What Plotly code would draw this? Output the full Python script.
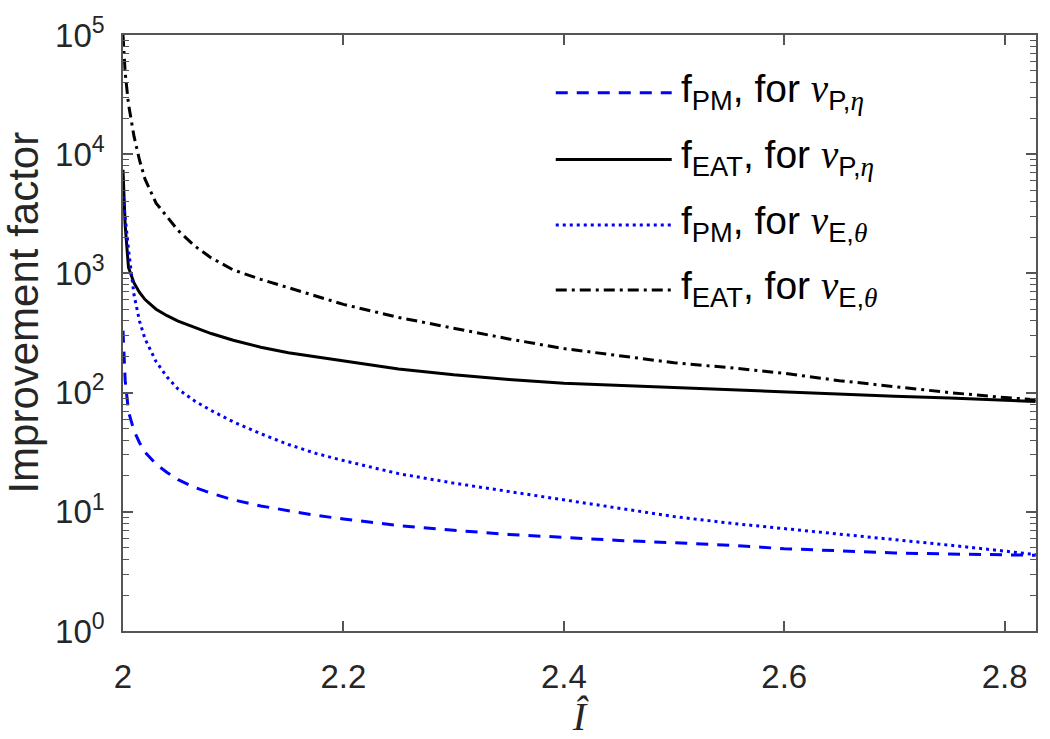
import plotly.graph_objects as go

# Data (x = I-hat, y = improvement factor)
i_hat = [2.0, 2.002, 2.005, 2.01, 2.015, 2.02, 2.03, 2.04, 2.05, 2.065, 2.08, 2.1,
         2.125, 2.15, 2.175, 2.2, 2.25, 2.3, 2.35, 2.4, 2.45, 2.5, 2.55, 2.6,
         2.65, 2.7, 2.75, 2.8, 2.828]

f_pm_p_eta = [331, 126, 69.2, 47.9, 38.0, 31.6, 25.1, 21.4, 18.6, 16.0, 14.3, 12.6,
              11.2, 10.2, 9.33, 8.71, 7.67, 7.0, 6.46, 6.10, 5.75, 5.50, 5.25, 4.90,
              4.68, 4.52, 4.42, 4.37, 4.32]

f_eat_p_eta = [7400, 2510, 1120, 832, 692, 603, 501, 442, 398, 351, 313, 275,
               240, 216, 200, 184, 158, 141, 129, 120, 115, 111, 106, 101,
               96.6, 93.3, 90.2, 86.1, 84.1]

f_pm_e_theta = [4470, 2820, 1580, 661, 398, 282, 182, 135, 107, 85.1, 70.8, 56.9,
                45.2, 36.7, 30.9, 26.9, 20.9, 17.4, 14.8, 12.6, 10.7, 9.12, 8.04, 7.24,
                6.53, 5.89, 5.25, 4.68, 4.37]

f_eat_e_theta = [100000, 47900, 26300, 14100, 8900, 6170, 3890, 2950, 2290, 1700, 1350, 1070,
                 891, 759, 646, 550, 427, 347, 282, 234, 204, 178, 162, 145,
                 126, 112, 100, 91, 87]

x_ticks = [2, 2.2, 2.4, 2.6, 2.8]
y_ticks = [1, 10, 100, 1000, 10000, 100000]
y_tick_text = ['10<sup>%d</sup>' % i for i in range(6)]
y_minor = [m * 10 ** e for e in range(5) for m in range(2, 10)]

serif = "<span style=\"font-family:'Liberation Serif'\"><i>%s</i></span>"
nu, eta, theta = serif % 'ν', serif % 'η', serif % 'θ'
labels = [
    'f<sub>PM</sub>, for ' + nu + '<sub>P,' + eta + '</sub>',
    'f<sub>EAT</sub>, for ' + nu + '<sub>P,' + eta + '</sub>',
    'f<sub>PM</sub>, for ' + nu + '<sub>E,' + theta + '</sub>',
    'f<sub>EAT</sub>, for ' + nu + '<sub>E,' + theta + '</sub>',
]
series = [f_pm_p_eta, f_eat_p_eta, f_pm_e_theta, f_eat_e_theta]
colors = ['#0000ff', '#000000', '#0000ff', '#000000']
dashes = ['12px,9px', 'solid', '3px,4px', '11px,5px,3px,5px']

fig = go.Figure()
for y, c, d in zip(series, colors, dashes):
    fig.add_trace(go.Scatter(x=i_hat, y=y, mode='lines',
                             line=dict(color=c, width=3, dash=d),
                             showlegend=False))

# hand-made legend (long line samples like the original)
leg_y = [0.903, 0.791, 0.681, 0.572]
for ly, lab, c, d in zip(leg_y, labels, colors, dashes):
    fig.add_shape(type='line', xref='paper', yref='paper',
                  x0=0.474, x1=0.601, y0=ly, y1=ly,
                  line=dict(color=c, width=3, dash=d))
    fig.add_annotation(xref='paper', yref='paper', x=0.609, y=ly + 0.003,
                       xanchor='left', yanchor='middle', showarrow=False,
                       text=lab, font=dict(size=39, color='#000000'))

# y label sits a bit above the axis middle in the original
fig.add_annotation(xref='paper', yref='paper', x=-0.109, y=0.535,
                   xanchor='center', yanchor='middle', showarrow=False,
                   textangle=-90, text='Improvement factor',
                   font=dict(family='Liberation Sans', size=42, color='#262626'))

axis_common = dict(showgrid=False, zeroline=False, showline=True,
                   linecolor='#555555', linewidth=1.5, mirror='ticks',
                   ticks='inside', tickcolor='#555555', tickwidth=1.5,
                   ticklen=10, ticklabeloverflow='allow',
                   tickfont=dict(family='Liberation Sans', size=33, color='#262626'))

fig.update_xaxes(range=[2, 2.8284], tickvals=x_ticks,
                 ticktext=[str(v) for v in x_ticks], ticklabelstandoff=16,
                 title=dict(text='<i>Î</i>', standoff=2,
                            font=dict(family='Liberation Serif', size=40, color='#262626')),
                 **axis_common)
fig.update_yaxes(type='log', range=[0, 5], tickvals=y_ticks, ticktext=y_tick_text,
                 ticklabelstandoff=10,
                 minor=dict(tickmode='array', tickvals=y_minor, ticks='inside',
                            ticklen=6, tickcolor='#555555', tickwidth=1.2,
                            showgrid=False),
                 **axis_common)

fig.update_layout(width=1050, height=739,
                  margin=dict(l=123, r=12, t=23, b=108),
                  plot_bgcolor='white', paper_bgcolor='white',
                  font=dict(family='Liberation Sans'))

# drop the page's default body margin so the figure fills the window exactly
fig.write_html('out.html', config={'displayModeBar': False},
               post_script="document.body.style.margin='0';")
